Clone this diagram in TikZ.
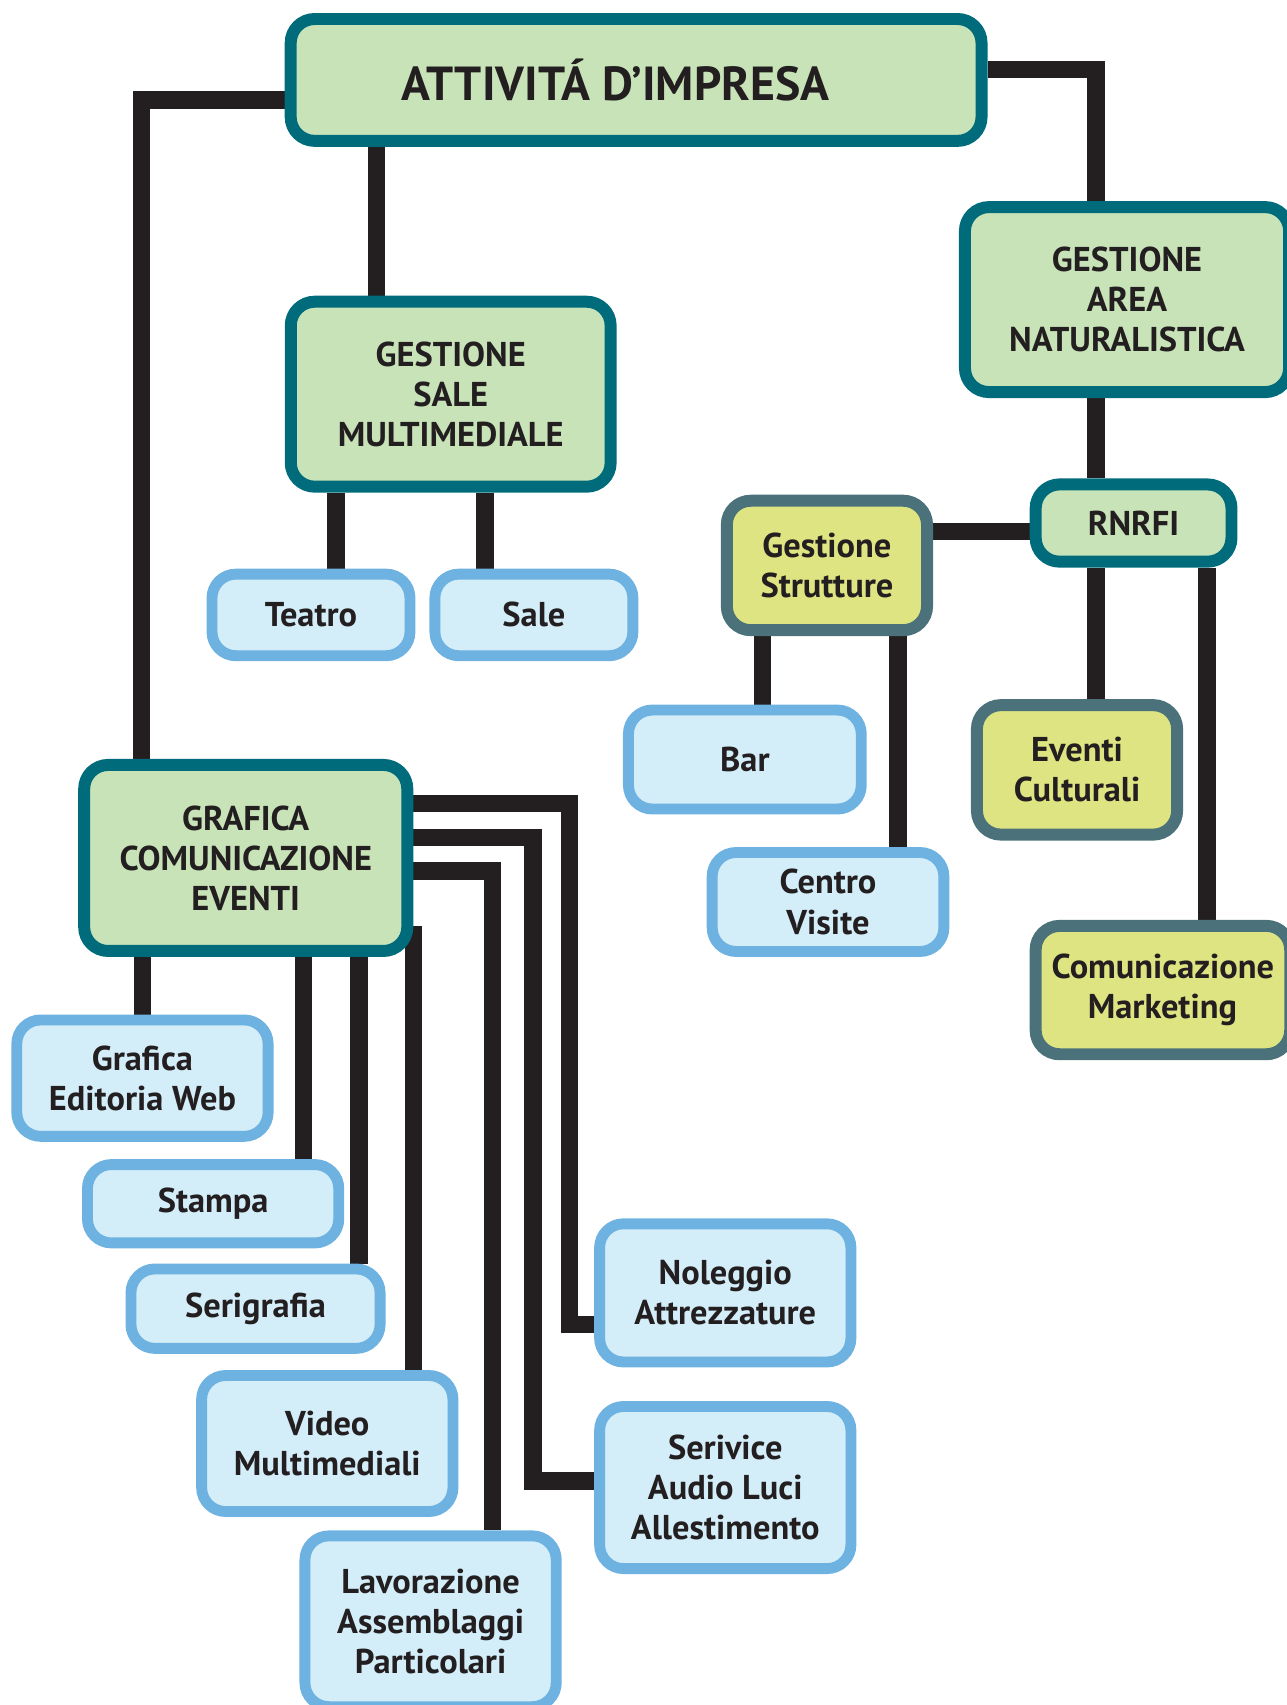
\documentclass[tikz,border=0pt]{standalone}
\usepackage{fontspec}
\setmainfont{PT Sans}
\usetikzlibrary{backgrounds}

\definecolor{boxteal}{HTML}{006B7B}
\definecolor{boxgreen}{HTML}{C8E3B8}
\definecolor{boxslate}{HTML}{4B717A}
\definecolor{boxlime}{HTML}{DFE482}
\definecolor{boxsky}{HTML}{6DB2E0}
\definecolor{boxice}{HTML}{D3EDF9}
\definecolor{ink}{HTML}{231F20}

\def\boxfont{\fontsize{9}{10.5}\selectfont\bfseries}
\def\titlefont{\fontsize{12.5}{14}\selectfont\bfseries}

\tikzset{
	box/.style={rounded corners=0.22cm, line width=0.11cm, align=center, inner sep=0pt, text=ink, font=\boxfont},
	main/.style={box, draw=boxteal, fill=boxgreen},
	sub/.style={box, draw=boxslate, fill=boxlime},
	leaf/.style={box, draw=boxsky, fill=boxice, line width=0.10cm},
	link/.style={line width=0.16cm, draw=ink},
}

\begin{document}
\begin{tikzpicture}[x=0.01cm, y=-0.01cm]
			%%%%% START %%%%%
			\useasboundingbox (0,0) rectangle (1183,1568);
			
			\node[main, font=\titlefont, minimum width=6.35cm, minimum height=1.12cm] (imp) at (585,73.5) {ATTIVITÁ D’IMPRESA\hspace*{0.38cm}};
			
			\node[main, minimum width=2.94cm, minimum height=1.70cm] (multi) at (414.5,362.5) {GESTIONE\\SALE\\MULTIMEDIALE};
			\node[leaf, minimum width=1.82cm, minimum height=0.75cm] (teatro) at (286,565.5) {Teatro};
			\node[leaf, minimum width=1.82cm, minimum height=0.75cm] (sale) at (491,565.5) {Sale};
			
			\node[main, minimum width=2.98cm, minimum height=1.70cm] (natura) at (1036.5,275.5) {GESTIONE\\AREA\\NATURALISTICA};
			\node[main, minimum width=1.80cm, minimum height=0.71cm] (rnrfi) at (1042.5,481) {RNRFI};
			\node[sub, minimum width=1.84cm, minimum height=1.19cm] (strutture) at (760.5,520) {Gestione\\Strutture};
			\node[sub, minimum width=1.84cm, minimum height=1.19cm] (eventi) at (990.5,708) {Eventi\\Culturali};
			\node[sub, minimum width=2.34cm, minimum height=1.18cm] (marketing) at (1069.5,910.5) {Comunicazione\\Marketing\hspace*{0.01cm}};
			\node[leaf, minimum width=2.14cm, minimum height=0.91cm] (bar) at (685,698.5) {Bar};
			\node[leaf, minimum width=2.13cm, minimum height=0.91cm] (centro) at (761.5,829.5) {Centro\\Visite};
			
			\node[main, minimum width=2.97cm, minimum height=1.71cm] (grafica) at (226,789) {GRAFICA\\COMUNICAZIONE\\EVENTI};
			\node[leaf, minimum width=2.31cm, minimum height=1.07cm] (editoria) at (131,991.5) {Grafica\\Editoria Web};
			\node[leaf, minimum width=2.31cm, minimum height=0.72cm] (stampa) at (196,1107) {Stampa};
			\node[leaf, minimum width=2.29cm, minimum height=0.73cm] (serigrafia) at (235,1203.5) {Serigrafia};
			\node[leaf, minimum width=2.31cm, minimum height=1.25cm] (video) at (301,1327.5) {Video\\Multimediali};
			\node[leaf, minimum width=2.31cm, minimum height=1.57cm] (lavorazione) at (396,1491) {Lavorazione\\Assemblaggi\\Particolari};
			\node[leaf, minimum width=2.31cm, minimum height=1.27cm] (noleggio) at (667,1189) {Noleggio\\Attrezzature};
			\node[leaf, minimum width=2.31cm, minimum height=1.49cm] (service) at (667,1368) {Serivice\\Audio Luci\\Allestimento};
			
			\begin{pgfonlayer}{background}
			\draw[link] (imp.west |- 0,92) -| (grafica.north -| 130,0);
			\draw[link] (imp.east |- 0,64) -| (natura.north -| 1008,0);
			\draw[link] (imp.south -| 346,0) -- (multi.north -| 346,0);
			
			\draw[link] (multi.south -| 309,0) -- (teatro.north -| 309,0);
			\draw[link] (multi.south -| 446,0) -- (sale.north -| 446,0);
			
			\draw[link] (natura.south -| 1008,0) -- (rnrfi.north -| 1008,0);
			\draw[link] (rnrfi.west |- 0,489) -- (strutture.east |- 0,489);
			\draw[link] (rnrfi.south -| 1008,0) -- (eventi.north -| 1008,0);
			\draw[link] (rnrfi.south -| 1110,0) -- (marketing.north -| 1110,0);
			\draw[link] (strutture.south -| 701,0) -- (bar.north -| 701,0);
			\draw[link] (strutture.south -| 826,0) -- (centro.north -| 826,0);
			
			\draw[link] (grafica.south -| 131,0) -- (editoria.north -| 131,0);
			\draw[link] (grafica.south -| 279,0) -- (stampa.north -| 279,0);
			\draw[link] (grafica.south -| 330,0) -- (serigrafia.north -| 330,0);
			\draw[link] (grafica.east |- 0,852) -- (video.north -| grafica.east);
			\draw[link] (grafica.east |- 0,739) -| (524,1218) -- (noleggio.west |- 0,1218);
			\draw[link] (grafica.east |- 0,770) -| (490,1362) -- (service.west |- 0,1362);
			\draw[link] (grafica.east |- 0,801) -| (lavorazione.north -| 453,0);
			\end{pgfonlayer}
			%%%%% END %%%%%
\end{tikzpicture}
\end{document}
